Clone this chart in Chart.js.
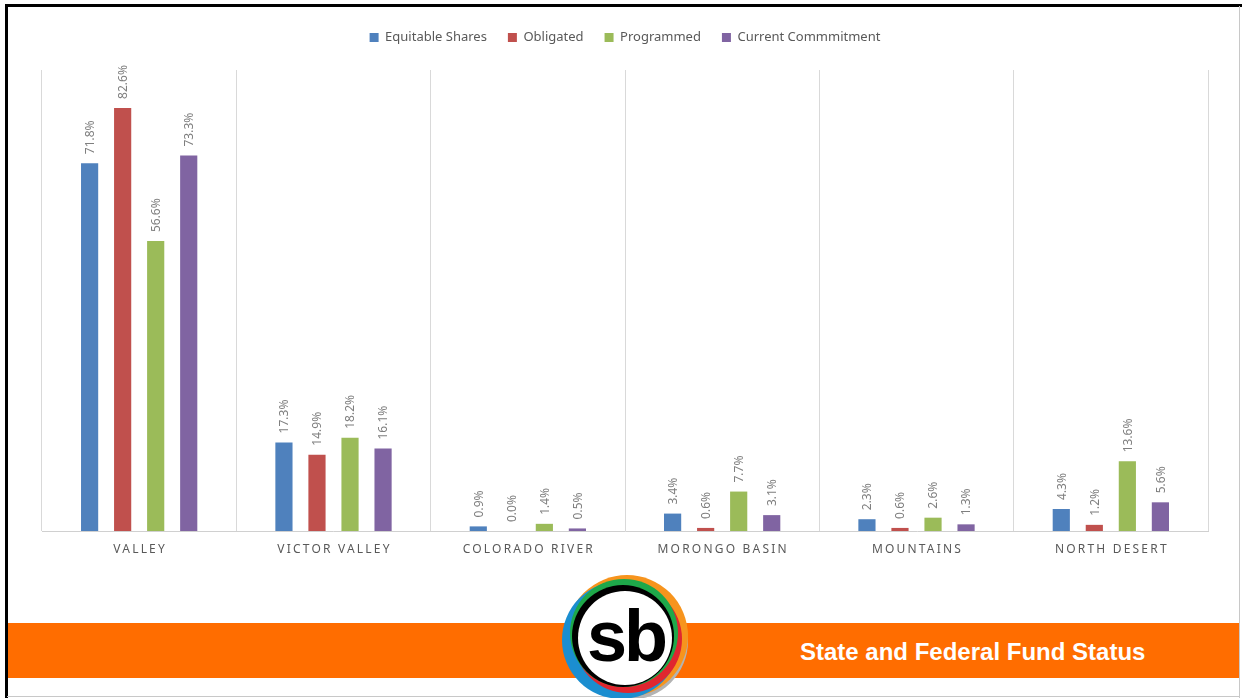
<!DOCTYPE html>
<html lang="en">

<head>
    <meta charset="UTF-8">
    <title>State and Federal Fund Status</title>
    <script src="https://cdn.jsdelivr.net/npm/chart.js"></script>
    <style>
        body { margin: 0; width: 1242px; height: 698px; background: #fff; position: relative; overflow: hidden; font-family: "Noto Sans", sans-serif; }
        #chartBox { position: absolute; left: 0; top: 0; }
        .line { position: absolute; }
        #banner { position: absolute; left: 8px; top: 623px; width: 1231px; height: 55px; background: #ff6d00; }
        #bannerText { position: absolute; left: 800px; top: 638px; color: #fff; font: bold 24px "Liberation Sans", Arial, sans-serif; white-space: nowrap; }
        .ring { position: absolute; border-radius: 50%; }
        #sb { position: absolute; left: 583px; top: 596px; width: 86px; text-align: center; font: bold 72px "Liberation Sans", Arial, sans-serif; letter-spacing: -3px; color: #000; line-height: 80px; }
    </style>
</head>

<body>
    <div id="chartBox"><canvas id="fundChart" width="1242" height="572"></canvas></div>

    <!-- slide frame -->
    <div class="line" style="left:5px;top:4px;width:1237px;height:3px;background:#000"></div>
    <div class="line" style="left:5px;top:4px;width:3px;height:694px;background:#000"></div>
    <div class="line" style="left:1239px;top:6px;width:1px;height:692px;background:#c8c8c8"></div>
    <div class="line" style="left:7px;top:696px;width:1233px;height:1px;background:#c8c8c8"></div>

    <div id="banner"></div>
    <div id="bannerText">State and Federal Fund Status</div>

    <!-- sb logo -->
    <div class="ring" style="left:570px;top:582px;width:118px;height:118px;background:#b3b3b3"></div>
    <div class="ring" style="left:566px;top:575px;width:122px;height:122px;background:#f7941d"></div>
    <div class="ring" style="left:562px;top:581px;width:118px;height:118px;background:#1b8ed0"></div>
    <div class="ring" style="left:574px;top:585px;width:108px;height:108px;background:#e0262f"></div>
    <div class="ring" style="left:570px;top:579px;width:108px;height:108px;background:#1ea84a"></div>
    <div class="ring" style="left:572px;top:585px;width:102px;height:102px;background:#000"></div>
    <div class="ring" style="left:578px;top:591px;width:94px;height:94px;background:#fff"></div>
    <div id="sb">sb</div>

    <script>
        const categories = ["VALLEY", "VICTOR VALLEY", "COLORADO RIVER", "MORONGO BASIN", "MOUNTAINS", "NORTH DESERT"];
        const equitableShares = [71.8, 17.3, 0.9, 3.4, 2.3, 4.3];
        const obligated = [82.6, 14.9, 0.0, 0.6, 0.6, 1.2];
        const programmed = [56.6, 18.2, 1.4, 7.7, 2.6, 13.6];
        const currentCommitment = [73.3, 16.1, 0.5, 3.1, 1.3, 5.6];

        // extra space under the legend
        const legendGap = {
            id: "legendGap",
            beforeInit(chart) {
                const fit = chart.legend.fit;
                chart.legend.fit = function () {
                    fit.bind(chart.legend)();
                    this.height += 16;
                };
            }
        };

        // rotated value labels above each bar
        const barLabels = {
            id: "barLabels",
            afterDatasetsDraw(chart) {
                const ctx = chart.ctx;
                ctx.save();
                ctx.font = "12px 'Noto Sans'";
                ctx.fillStyle = "#7f7f7f";
                ctx.textAlign = "left";
                ctx.textBaseline = "middle";
                chart.data.datasets.forEach((ds, i) => {
                    chart.getDatasetMeta(i).data.forEach((bar, j) => {
                        ctx.save();
                        ctx.translate(bar.x + 1, bar.y - 9);
                        ctx.rotate(-Math.PI / 2);
                        ctx.fillText(ds.data[j].toFixed(1) + "%", 0, 0);
                        ctx.restore();
                    });
                });
                ctx.restore();
            }
        };

        // spaced category names under the axis
        const categoryLabels = {
            id: "categoryLabels",
            afterDraw(chart) {
                const ctx = chart.ctx;
                const x = chart.scales.x;
                ctx.save();
                ctx.font = "12px 'Noto Sans'";
                ctx.letterSpacing = "2.2px";
                ctx.fillStyle = "#595959";
                ctx.textAlign = "center";
                ctx.textBaseline = "middle";
                categories.forEach((c, i) => {
                    ctx.fillText(c, x.getPixelForValue(i) + 1, chart.chartArea.bottom + 19);
                });
                ctx.restore();
            }
        };

        const ctx = document.getElementById("fundChart").getContext("2d");
        new Chart(ctx, {
            type: "bar",
            data: {
                labels: categories,
                datasets: [
                    { label: "Equitable Shares", data: equitableShares, backgroundColor: "#4f81bd" },
                    { label: "Obligated", data: obligated, backgroundColor: "#c0504d" },
                    { label: "Programmed", data: programmed, backgroundColor: "#9bbb59" },
                    { label: "Current Commmitment", data: currentCommitment, backgroundColor: "#8064a2" }
                ]
            },
            options: {
                responsive: false,
                animation: false,
                devicePixelRatio: 1,
                categoryPercentage: 0.68,
                barPercentage: 0.52,
                layout: { padding: { left: 42, right: 34, top: 10, bottom: 41 } },
                plugins: {
                    legend: {
                        position: "top",
                        labels: {
                            boxWidth: 9,
                            boxHeight: 9,
                            padding: 21,
                            color: "#595959",
                            font: { family: "Noto Sans", size: 13 }
                        }
                    },
                    tooltip: { enabled: false }
                },
                scales: {
                    x: {
                        offset: true,
                        grid: { offset: true, color: "#d9d9d9", drawTicks: false },
                        border: { color: "#d0d0d0" },
                        ticks: { display: false }
                    },
                    y: {
                        display: false,
                        min: 0,
                        max: 90
                    }
                }
            },
            plugins: [legendGap, barLabels, categoryLabels]
        });
    </script>
</body>

</html>
